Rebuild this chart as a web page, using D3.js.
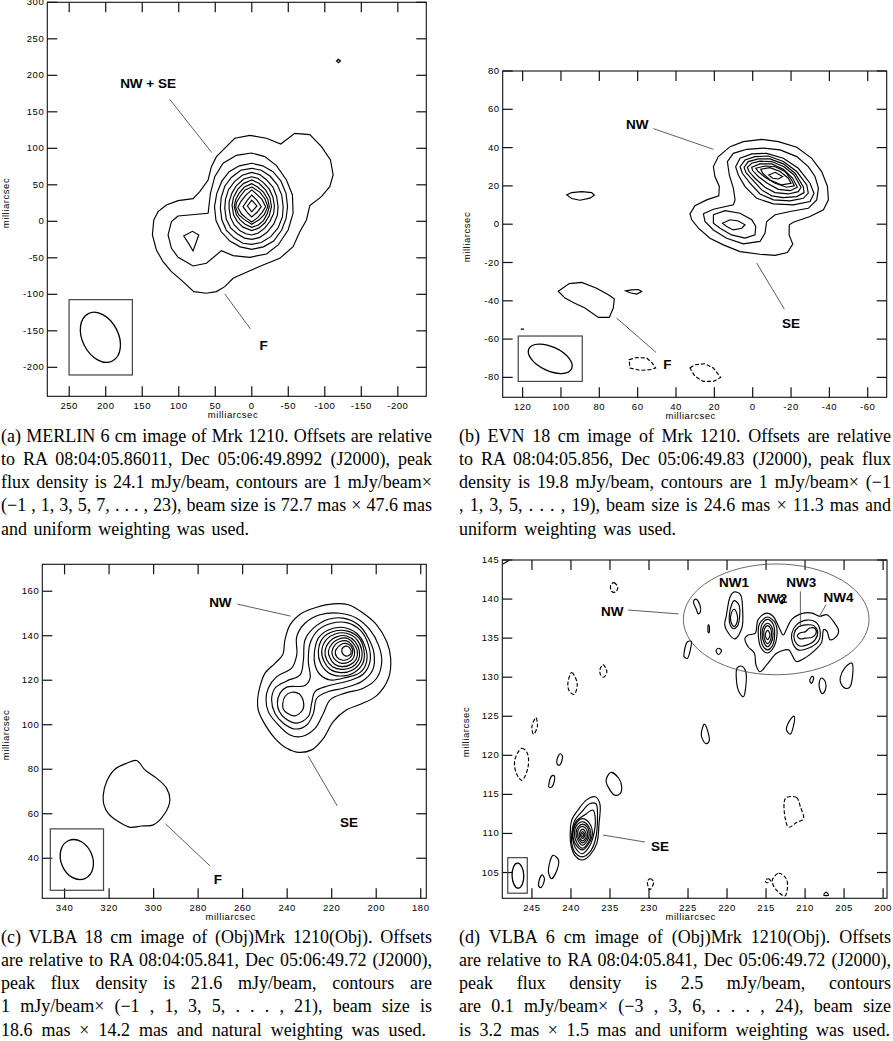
<!DOCTYPE html>
<html>
<head>
<meta charset="utf-8">
<script src="https://cdn.jsdelivr.net/npm/d3@7"></script>
<style>
  html, body { margin: 0; padding: 0; background: #fff; }
  svg { display: block; }
  .tick text, .axis-title { font-family: "Liberation Sans", sans-serif; font-size: 9.5px; fill: #000; letter-spacing: .55px; }
  .region { font-family: "Liberation Sans", sans-serif; font-size: 13.5px; font-weight: bold; fill: #000; }
  .caption { font-family: "Liberation Serif", serif; font-size: 18px; fill: #000; }
</style>
</head>
<body>
<svg width="893" height="1041"></svg>
<script>
// ---- (a) MERLIN 6 cm, values in mas [RA offset, Dec offset]
const merlinTicksX = [250, 200, 150, 100, 50, 0, -50, -100, -150, -200];
const merlinTicksY = [300, 250, 200, 150, 100, 50, 0, -50, -100, -150, -200];
const merlinContours = [
  [[134.2,1.8],[128.3,13.2],[116.9,22.4],[100.9,28.3],[80.4,31.1],[71.2,40.6],[59.8,56.6],[55.3,74.9],[48.4,88.6],[34.7,102.3],[23.3,113.7],[2.7,117.8],[-20.1,113.7],[-39.7,105.9],[-58.9,120.5],[-79.5,118.7],[-95.4,102.3],[-107.8,84],[-111.4,63.5],[-106.8,47.5],[-95.4,33.8],[-79.5,21.5],[-74.9,1.8],[-65.8,-14.2],[-56.6,-34.7],[-38.4,-50.7],[-15.5,-59.8],[2.7,-67.6],[25.6,-78.1],[37,-89.5],[48.4,-96.3],[62.1,-98.6],[79.5,-96.3],[94.1,-82.6],[110,-68.9],[121.5,-55.3],[130.6,-39.3],[136.1,-18.7]],
  [[100.9,7.3],[110,-0.5],[114.6,-18.7],[110,-37],[100.9,-49.3],[80.4,-61.2],[62.1,-57.5],[41.6,-40.2],[25.6,-47],[2.7,-49.3],[-20.1,-44.7],[-36.1,-32.4],[-49.8,-11.9],[-56.6,11],[-55.7,36.1],[-47.5,56.6],[-33.8,76.3],[-17.8,88.6],[0.5,93.6],[21,90.4],[39.3,79.5],[50.7,61.2],[56.6,38.4],[59.8,11]],
  [[93.2,-20.1],[81.3,-13.7],[72.6,-18.7],[80.4,-40.6],[87.2,-29.2]],
  [[0,79.5],[17,76],[31,68],[41,55],[48,38],[51,20],[49,1],[42,-14],[30,-27],[16,-35],[0,-38.4],[-16,-35],[-30,-27],[-41,-12],[-47,4],[-49,20],[-47,38],[-40,55],[-29,68],[-15,76]],
  [[0,72.6],[15,70],[28,60],[37,48],[42,32],[43,18],[41,2],[35,-12],[24,-23],[12,-30],[0,-31.5],[-13,-29],[-26,-21],[-36,-9],[-42,6],[-43,20],[-41,36],[-35,50],[-25,62],[-13,70]],
  [[0,67],[13,63],[24,54],[32,43],[36,30],[37,18],[35,3],[29,-9],[20,-17],[10,-23],[0,-24.7],[-11,-22],[-21,-15],[-30,-4],[-35,8],[-36,20],[-34,34],[-29,47],[-20,57],[-11,64]],
  [[0,61],[11,58],[21,49],[27,39],[31,27],[31,17],[29,5],[24,-5],[16,-13],[8,-17],[0,-18.7],[-9,-16],[-18,-9],[-25,0],[-30,11],[-31,21],[-29,33],[-24,44],[-16,53],[-8,59]],
  [[0,56.6],[11,52],[19,44],[25,33],[27,22],[25,9],[20,0],[12,-8],[0,-12.8],[-10,-9],[-18,-2],[-24,8],[-27,20],[-25,32],[-19,43],[-10,52]],
  [[0,51.6],[10,47],[17,39],[22,30],[24,20],[21,9],[16,2],[9,-4],[0,-8.2],[-9,-5],[-16,1],[-21,10],[-24,20],[-22,30],[-16,40],[-8,47]],
  [[0,47],[9,43],[16,34],[21,26],[22,19],[18,9],[11,3],[0,-4],[-10,2],[-17,9],[-22,20],[-18,31],[-11,40]],
  [[0,43],[8,36],[15,27],[19,19],[14,10],[7,4],[0,-1],[-8,5],[-14,12],[-19,20],[-14,30],[-7,37]],
  [[0,36],[6,29],[12,20],[6,12],[0,6],[-7,12],[-13,20],[-7,29]],
  [[0,29],[6,21],[0,13],[-7,21]],
  [[-116,219.6],[-118.7,222],[-121.5,219.6],[-118.7,217.3]]
];
const merlinLeaders = [[[112.3,167.1],[54.8,94.1]], [[37,-99.5],[1.8,-147.5]]];
const merlinLabels = [["NW + SE",142,189], ["F",-16.4,-169.9]];
const merlinBeam = [207.3,-158.9,72.7,49.3,-27];
const merlinBeamBox = [250.2,163.5,-107.3,-210.5];

// ---- (b) EVN 18 cm
const evnTicksX = [120, 100, 80, 60, 40, 20, 0, -20, -40, -60];
const evnTicksY = [80, 60, 40, 20, 0, -20, -40, -60, -80];
const evnContours = [
  [[32.7,5.4],[30.1,9.6],[24,12.7],[17.7,14.8],[17.4,19.7],[19.7,24.9],[20.5,30.1],[17.9,35.3],[11.8,40.5],[4.9,43.1],[-4.7,44.3],[-13.4,43.1],[-23,40.2],[-30.8,34.4],[-36,27.5],[-39,19.7],[-39.5,12.7],[-36.9,7.5],[-29.9,4],[-21.2,1],[-19.1,-0.3],[-19,-5.6],[-20.9,-10.4],[-18.1,-14.8],[-11.7,-16.3],[-3.8,-15.7],[6.6,-14.3],[15.3,-10.8],[22.3,-7.3],[28.3,-2.1],[31.8,2.3]],
  [[25.7,5.4],[20.5,7.8],[10.1,10.1],[9.2,12.7],[10.1,18.8],[12.2,25.7],[13.2,32.7],[10.1,37],[3.1,39.1],[-5.6,39.7],[-14.3,38.8],[-23,35.3],[-29,30.1],[-32.5,24.9],[-34.3,18.8],[-33.4,12.7],[-29,8.3],[-19.5,6.6],[-11.7,4.9],[-7.3,1.4],[-6.4,-4.7],[-3.8,-9],[4.9,-10.3],[13.6,-7.3],[20.5,-3],[24.9,1.4]],
  [[20.5,4.9],[14.4,7.1],[6.6,5.7],[0.5,2.3],[-1.6,-1.2],[-1.2,-5.6],[4,-7.3],[11,-5.6],[17,-2.1],[20.5,0.5]],
  [[15.8,0.5],[11.8,2.3],[7.5,1.7],[4,-0.3],[5.7,-2.1],[10.1,-3],[13.6,-1.2]],
  [[8.9,30],[6.6,34.4],[0.5,36.7],[-7.3,37],[-16,34.4],[-23.8,29.2],[-29.9,21.4],[-32,16.2],[-29.9,11.8],[-21.2,10.1],[-10.8,10.6],[-2.1,13.5],[4,19.6],[7.5,25.7]],
  [[6.6,30],[4,33.5],[-1.2,35.3],[-8.2,35.6],[-16,32.7],[-23,27.5],[-28.2,20.5],[-29,16.2],[-26.4,13.5],[-19.5,12.2],[-10.8,12.7],[-3.8,15.8],[1.4,21.4],[5.4,26.6]],
  [[4.5,29.7],[2.3,32.7],[-2.9,34.1],[-9,34.1],[-16,31.5],[-22.1,26.6],[-26.4,19.6],[-26.8,16.5],[-23,14.4],[-16,13.9],[-9.9,14.8],[-4.7,17.9],[-0.3,22.8],[3.5,26.9]],
  [[2.8,29.7],[0.5,31.8],[-3.8,32.9],[-9.9,32.7],[-16.3,30],[-21.6,25.7],[-25.2,19.3],[-23.8,17],[-18.6,15.8],[-11.6,16.5],[-6.4,19.3],[-1.2,24],[1.9,27.5]],
  [[0.5,29.7],[-3.8,31.5],[-9.9,31.5],[-16,28.7],[-20.9,24],[-23.3,19.3],[-19.5,17.5],[-13.4,18.2],[-7.6,21.4],[-2.9,24.9],[0,28]],
  [[-1.6,29.2],[-6.4,30.4],[-11.7,30],[-16.9,27.5],[-20.3,23.1],[-21.7,20],[-17.7,19.3],[-11.7,21.4],[-6.4,24.5],[-2.9,27.5]],
  [[-4.2,28.7],[-9,29.5],[-14.3,27.5],[-18.6,24],[-20,21.4],[-15.1,20.5],[-9,23.1],[-5.2,26.6]],
  [[-8.3,25.7],[-11.7,27.1],[-15.6,24.9],[-13.4,23.6],[-10.4,24]],
  [[97,15.3],[94.4,16.5],[89.2,17],[84,16.5],[82.6,15.1],[84.9,13.6],[90.1,12.5],[94.4,13.4]],
  [[101.4,-35],[95.7,-31],[89.2,-30.4],[81.4,-33.4],[75.3,-36.9],[72.2,-39],[72.7,-43.8],[74.8,-48.7],[80.5,-48.7],[87.5,-43.8],[93.6,-40.9],[97.9,-38.6]],
  [[66.3,-34.8],[63.1,-34.3],[59.7,-34.1],[57.9,-35.1],[60.5,-36.5],[64,-35.8]],
  [[121,-54.8],[119.3,-54.8]]
];
const evnDashed = [
  [[64.5,-70.8],[60.5,-69.6],[55.3,-69.9],[52.7,-72.2],[50.6,-75.1],[53.6,-76],[58.8,-76.3],[64,-75.1]],
  [[32.7,-75.1],[30.1,-73.4],[24.9,-72.9],[20.5,-75.1],[16.7,-80],[20.5,-82.1],[25.7,-82.1],[30.1,-79.5]]
];
const evnLeaders = [[[51.8,49.9],[20.5,39.1]], [[-2.1,-20.3],[-16.5,-44.3]], [[71,-49],[50.4,-67]]];
const evnLabels = [["NW",60.2,52.3], ["SE",-20,-51.7], ["F",44.5,-72.9]];
const evnBeam = [105.6,-70.3,24.6,12.5,-65];
const evnBeamBox = [122.3,88.9,-58.4,-82.1];

// ---- (c) VLBA 18 cm
const vlba18TicksX = [340, 320, 300, 280, 260, 240, 220, 200, 180];
const vlba18TicksY = [160, 140, 120, 100, 80, 60, 40];
const vlba18Contours = [
  [[253.3,111.2],[252.2,117.2],[250,123.1],[245.5,127.6],[242,131.4],[241,138.1],[238.7,144.9],[233.5,150.1],[226.7,152.8],[219.3,154.3],[212.5,153.9],[205.8,150.1],[199.8,144.9],[195.3,137.4],[193.5,129.9],[194.5,120.9],[199.8,113.1],[206.5,109.4],[213.3,106.7],[219.3,101.4],[223.7,93.9],[229,88.7],[235,87.6],[240.2,89.4],[245.5,93.9],[250.7,101.4],[253,106.7]],
  [[249.5,111.2],[248.5,116.4],[244.7,121.6],[238,125.4],[235.7,131.4],[235.7,139.6],[232,145.6],[225.2,149.4],[216.3,150.1],[208.8,147.9],[202.8,142.6],[199,135.9],[197.5,128.4],[199.8,120.9],[205.8,116.4],[214,114.2],[220.7,111.2],[223.7,105.2],[227.5,98.4],[233.5,94.7],[238.7,95.4],[244.7,100.7],[248.5,105.9]],
  [[247,111.2],[245.5,116.4],[240.2,119.7],[234.2,122.4],[232.7,129.1],[232,138.1],[228.2,143.4],[221.5,147.4],[214.8,147.9],[208,144.9],[203.5,138.9],[201,132.1],[201.6,124.6],[206.5,119.4],[214.8,116.4],[221.5,114.9],[226.7,111.9],[228.2,105.2],[231.2,99.9],[236.5,98.1],[241.7,100.7],[245.5,105.2]],
  [[244.4,109.7],[243.2,114.2],[240.2,116.9],[232,117.6],[229.7,120.9],[230.5,128.4],[229.7,136.6],[226,142.6],[220,145.6],[213.3,145.9],[207.3,142.6],[203.5,135.9],[202.8,128.4],[205.8,122.8],[211.8,119.9],[221.5,117.5],[227.5,114.9],[229,109.7],[230.5,103.7],[235.7,100.7],[241,102.9],[243.5,105.9]],
  [[242,109.4],[241,112.7],[238,114.6],[234.7,113.9],[232.7,110.4],[233,106.7],[236.5,104],[239.9,105.2],[241.7,107]],
  [[227.8,132.1],[226,138.9],[221.5,142.6],[214.8,143.7],[208.8,141.1],[205,135.1],[204.3,128.4],[207.3,123.4],[213.3,121.3],[220.7,120.1],[225.5,122.8],[227.5,126.9]],
  [[226,132.9],[224,138.9],[219.3,141.9],[213.3,142.2],[208,139.3],[205.5,133.6],[206,127.6],[210,123.4],[216.3,121.9],[221.5,123.4],[225,127.6]],
  [[224.5,132.9],[222.5,138.1],[218.5,140.8],[213.3,141.1],[208.8,138.4],[206.5,133.6],[207,128.4],[210.6,124.6],[216,123.4],[220.7,124.9],[223.4,128.4]],
  [[223,132.9],[221,137.4],[217.5,139.6],[213.3,139.9],[209.5,137.4],[207.6,133.3],[208,129.1],[211,125.8],[215.5,124.9],[219.6,126.1],[222.2,129.1]],
  [[221.5,132.9],[219.7,136.6],[217,138.4],[213.3,138.9],[210.3,136.6],[208.5,133.2],[209,129.4],[211.8,126.9],[215.5,126.1],[218.8,127.3],[220.7,129.9]],
  [[219.9,132.9],[218.5,135.9],[216.3,137.4],[213.3,137.7],[211,135.9],[209.7,132.9],[210.3,129.9],[212.5,128.1],[215.5,127.6],[218,128.8],[219.4,130.6]],
  [[218.4,132.9],[217,135.1],[214.8,136.5],[212.5,136.2],[210.7,134.1],[211,131],[213,129.3],[215.5,129.1],[217.6,130.4]],
  [[215.5,133.2],[214.8,134.8],[213,135.3],[211.5,133.9],[211.3,132.1],[212.8,130.9],[214.4,131.2]],
  [[322.6,68.5],[321.1,74.5],[317.4,80],[312.1,82.7],[307.6,83.9],[303.9,79.7],[298.7,76],[294.2,71.5],[292.7,66.2],[294.9,60.2],[300.1,55],[305.4,54.5],[310.6,53.9],[315.9,56.5],[320.4,60.2],[322.3,64]]
];
const vlba18Leaders = [[[262.4,154.2],[238.4,148.8]], [[230.6,86],[217.5,63.5]], [[294.6,55.4],[274.7,36.6]]];
const vlba18Labels = [["NW",270,155.2], ["SE",212.2,56.3], ["F",271.1,30.7]];
const vlba18Beam = [334.5,39.4,18.6,14.2,-23];
const vlba18BeamBox = [346.4,322.5,53.2,25.6];

// ---- (d) VLBA 6 cm
const vlba6TicksX = [245, 240, 235, 230, 225, 220, 215, 210, 205, 200];
const vlba6TicksY = [145, 140, 135, 130, 125, 120, 115, 110, 105];
const vlba6Contours = [
  // NW1
  [[220.1,137.8],[219.6,140.3],[219.1,140.9],[218.3,140.6],[218,138.6],[218.1,136.3],[219,134.9],[219.8,135.6],[220.3,136.7]],
  [[219.7,138],[219.4,139.3],[219.1,139.8],[218.5,139.3],[218.4,137.6],[218.7,136.5],[219.2,136.2],[219.6,136.7]],
  [[219.5,138],[219.1,138.7],[218.7,138],[218.7,137.1],[219.1,136.5],[219.5,137.1]],
  // NW2 - NW4 envelope
  [[217.7,135],[217.3,135.4],[216.4,135.6],[216,137.4],[214.9,138.2],[214.1,137.8],[213.4,136.5],[212.8,135.4],[212.4,136.1],[211.7,137.4],[210.2,138.2],[209.1,138.2],[208.1,137.8],[207.2,138],[206.2,136.9],[205.7,135.9],[206.2,135],[206.8,134.8],[207.2,135.9],[207.6,136.1],[207.9,134.4],[208.9,133.3],[209.8,132.6],[211.1,132],[211.7,132.9],[212.1,133.5],[213.6,133.1],[214.9,131.6],[215.8,130.7],[216.3,131.6],[216.5,133.1],[217.3,133.9]],
  // NW2
  [[216,135.6],[215.8,136.9],[214.8,137.7],[213.8,136.9],[213.6,135.4],[214.1,133.7],[214.8,133.1],[215.6,133.7]],
  [[215.7,135.6],[215.5,136.8],[214.8,137.4],[214.1,136.8],[213.9,135.4],[214.2,134],[214.8,133.5],[215.4,134]],
  [[215.5,135.6],[215.3,136.5],[214.8,136.9],[214.3,136.5],[214.1,135.4],[214.4,134.3],[214.8,133.9],[215.2,134.3]],
  [[215.3,135.5],[215.2,136.2],[214.8,136.6],[214.4,136.2],[214.3,135.4],[214.5,134.6],[214.8,134.3],[215.1,134.6]],
  [[215.1,135.4],[214.8,136],[214.5,135.4],[214.8,134.8]],
  // NW3
  [[211.7,135.6],[211.1,136.7],[209.8,137.3],[208.7,137.1],[208.1,136.1],[208.3,134.6],[209.6,133.7],[210.9,133.5],[211.6,134.4]],
  [[211.4,135.6],[210.9,136.4],[209.8,136.7],[208.9,136.6],[208.4,135.9],[208.7,134.8],[209.8,134.1],[210.7,134],[211.3,134.6]],
  [[211,135.3],[210.6,135.7],[210,135.8],[209.4,136.3],[208.7,136.2],[208.6,135.6],[209.1,135.1],[210,135],[210.6,134.9]],
  // isolated islands
  [[224.3,139.7],[224,140],[223.5,139.3],[223.4,138.4],[223.7,138.1],[223.9,138.6]],
  [[222.4,136.7],[222.3,136.6],[222.3,135.7],[222.4,135.7]],
  [[221.4,133.4],[221.1,133.7],[220.7,133.4],[221.1,132.9]],
  [[225.5,133.1],[225.1,134.5],[224.6,134.6],[224.7,133.5],[225.1,132.4],[225.5,132.6]],
  [[218.8,129.7],[218.7,131.2],[218.1,131.4],[217.6,130.7],[217.6,128.8],[217.9,127.5],[218.5,128.2]],
  [[209.4,129.6],[209.1,130.1],[208.9,129.9],[209.2,129.2]],
  [[208.2,129.2],[207.9,129.9],[207.4,129.4],[207.4,128.4],[207.8,127.9],[208.1,128.4]],
  [[205.5,129.9],[204.9,131.2],[204,131.8],[203.9,130.3],[204.3,128.7],[204.9,128.6],[205.4,129.2]],
  [[223.3,122.8],[222.9,124],[222.5,123.2],[222.3,121.8],[222.7,121.5],[223.2,122.2]],
  [[212.4,123.3],[211.8,124.7],[211.4,125],[211.5,123.7],[211.9,122.7]],
  [[241.8,119.4],[241.4,120.2],[241.1,119.9],[241.4,118.8],[241.7,118.8]],
  [[242.8,116.5],[242.4,117.4],[242.1,117.3],[242.4,116],[242.8,115.9]],
  [[235.5,116.8],[234.9,117.8],[233.9,117.1],[233.5,116],[233.7,115.1],[234.4,114.9],[235.2,115.9]],
  [[242.9,105.3],[242.3,107.2],[241.6,106.6],[241.8,105.3],[242.5,104.2],[242.8,104.7]],
  [[244.1,103.9],[243.7,104.7],[243.4,104.2],[243.8,103.1],[244.1,103.2]],
  [[207.6,102.1],[207.3,102.5],[207,102.1]],
  [[213.3,140.1],[212.9,140.3],[212.6,139.9],[213,139.4]],
  // SE
  [[240.1,109.8],[239.9,111.7],[239.1,113],[238,114.3],[236.9,114.7],[236.3,113.8],[236.4,111.3],[236.7,108.7],[237.6,107.2],[238.6,106.6],[239.5,107.2],[240,108.5]],
  [[239.9,110],[239.5,111.7],[238.6,112.8],[237.6,113.8],[236.8,113.8],[236.6,112.1],[236.9,109.1],[237.6,107.6],[238.6,107],[239.5,107.6],[239.9,108.7]],
  [[239.8,110],[239.3,111.6],[238.2,112.4],[237.2,113],[236.9,112.1],[237.2,109.4],[237.8,108.1],[238.6,107.4],[239.4,108.1],[239.7,108.9]],
  [[239.75,110],[239.4,111.2],[238.6,111.9],[237.7,111.4],[237.25,110],[237.6,108.9],[238.5,107.9],[239.4,108.6]],
  [[239.55,110],[239.3,111],[238.5,111.5],[237.8,111],[237.45,109.9],[237.75,108.9],[238.5,108.1],[239.25,108.8]],
  [[239.35,110],[239.1,110.8],[238.5,111.2],[237.9,110.8],[237.65,109.9],[237.9,109.1],[238.5,108.5],[239.1,109.1]],
  [[239.15,109.9],[239,110.6],[238.5,110.9],[238,110.5],[237.85,109.8],[238.05,109.2],[238.5,108.8],[238.95,109.2]],
  [[238.95,109.8],[238.8,110.3],[238.5,110.55],[238.2,110.3],[238.05,109.8],[238.2,109.3],[238.5,109.05],[238.8,109.3]],
  [[238.78,109.8],[238.5,110.25],[238.22,109.8],[238.5,109.35]],
  [[238.62,109.8],[238.5,110.05],[238.38,109.8],[238.5,109.55]]
];
const vlba6Dashed = [
  [[234.9,141.8],[234.5,142.1],[234,141.5],[234.3,140.9],[234.8,141]],
  [[236.3,130.9],[235.9,131.6],[235.4,130.7],[235.8,130],[236.2,130.3]],
  [[240.4,129.2],[239.9,130.6],[239.2,129.2],[239.6,127.8],[240.2,128.2]],
  [[245,123.7],[244.5,124.8],[244.3,123.7],[244.8,122.7]],
  [[247.2,119.4],[246.3,120.9],[245.6,120.3],[245.5,118.5],[246.3,116.8],[247,117.7]],
  [[212.5,114.5],[211.1,114.6],[210.6,113.4],[210.2,111.9],[211.1,111.4],[212.1,110.8],[212.5,111.7]],
  [[230.2,103.8],[229.9,104.2],[229.4,103.8],[229.9,102.8]],
  [[214.2,104],[213.4,104.9],[212.4,104.2],[212.3,102.7],[212.6,102],[213.8,102.9]],
  [[215.1,104],[214.7,104.2],[214.4,103.9],[214.9,103.7]],
  [[248.7,144.5],[248,144.9]]
];
const vlba6Leaders = [[[232.7,138.6],[226.2,138.1]], [[235.9,109.8],[230.5,108.9]], [[210.6,141],[210.6,136.5]], [[207.3,139.3],[208.1,137.9]]];
const vlba6Labels = [["NW",234.7,138.4], ["SE",228.6,108.4], ["NW1",219.1,142.2], ["NW2",214.2,140.1], ["NW3",210.5,142.2], ["NW4",205.7,140.3]];
const vlba6Beam = [246.8,104.6,3.2,1.5,-2];
const vlba6BeamBox = [248.1,245.6,106.9,102.35];
const vlba6Circle = [213.7,137.4,11.9,7.1];

// ---- captions, one line per entry as they are broken in the picture
const captionA = ["(a) MERLIN 6 cm image of Mrk 1210. Offsets are relative", "to RA 08:04:05.86011, Dec 05:06:49.8992 (J2000), peak", "flux density is 24.1 mJy/beam, contours are 1 mJy/beam×", "(−1 , 1, 3, 5, 7, . . . , 23), beam size is 72.7 mas × 47.6 mas", "and uniform weighting was used."];
const captionB = ["(b) EVN 18 cm image of Mrk 1210. Offsets are relative", "to RA 08:04:05.856, Dec 05:06:49.83 (J2000), peak flux", "density is 19.8 mJy/beam, contours are 1 mJy/beam× (−1", ", 1, 3, 5, . . . , 19), beam size is 24.6 mas × 11.3 mas and", "uniform weighting was used."];
const captionC = ["(c) VLBA 18 cm image of (Obj)Mrk 1210(Obj). Offsets", "are relative to RA 08:04:05.841, Dec 05:06:49.72 (J2000),", "peak flux density is 21.6 mJy/beam, contours are", "1 mJy/beam× (−1 , 1, 3, 5, . . . , 21), beam size is", "18.6 mas × 14.2 mas and natural weighting was used."];
const captionD = ["(d) VLBA 6 cm image of (Obj)Mrk 1210(Obj). Offsets", "are relative to RA 08:04:05.841, Dec 05:06:49.72 (J2000),", "peak flux density is 2.5 mJy/beam, contours", "are 0.1 mJy/beam× (−3 , 3, 6, . . . , 24), beam size", "is 3.2 mas × 1.5 mas and uniform weighting was used."];

const svg = d3.select("svg");
const tickFormat = d => String(d); // plain hyphen on negatives, like the plots

function drawPanel(p) {
    const x = d3.scaleLinear().domain(p.domainX).range([p.left, p.right]);
    const y = d3.scaleLinear().domain(p.domainY).range([p.bottom, p.top]);
    const g = svg.append("g");

    g.append("rect")
        .attr("x", p.left).attr("y", p.top)
        .attr("width", p.right - p.left).attr("height", p.bottom - p.top)
        .attr("fill", "none").attr("stroke", "#111").attr("stroke-width", 1.1);

    //axes on all four sides, ticks point inward
    const axes = [
        [d3.axisBottom(x).tickValues(p.ticksX).tickFormat(tickFormat).tickPadding(6), 0, p.bottom],
        [d3.axisTop(x).tickValues(p.ticksX).tickFormat(""), 0, p.top],
        [d3.axisLeft(y).tickValues(p.ticksY).tickFormat(tickFormat).tickPadding(3), p.left, 0],
        [d3.axisRight(y).tickValues(p.ticksY).tickFormat(""), p.right, 0]
    ];
    axes.forEach(([axis, dx, dy]) => {
        const a = g.append("g").attr("transform", `translate(${dx},${dy})`);
        a.call(axis.offset(0).tickSize(-p.tick).tickSizeOuter(0));
        a.select(".domain").remove();
        a.selectAll("line").attr("stroke", "#111").attr("stroke-width", 1.2);
    });

    const line = d3.line().x(d => x(d[0])).y(d => y(d[1])).curve(p.curve);

    g.selectAll(".contour").data(p.contours).enter().append("path")
        .attr("class", "contour")
        .attr("d", line)
        .attr("fill", "none").attr("stroke", "#000").attr("stroke-width", 1.15);

    g.selectAll(".negative").data(p.dashed || []).enter().append("path")
        .attr("class", "negative")
        .attr("d", line)
        .attr("fill", "none").attr("stroke", "#000").attr("stroke-width", 1.15)
        .attr("stroke-dasharray", "4,2");

    g.selectAll(".leader").data(p.leaders).enter().append("line")
        .attr("class", "leader")
        .attr("x1", d => x(d[0][0])).attr("y1", d => y(d[0][1]))
        .attr("x2", d => x(d[1][0])).attr("y2", d => y(d[1][1]))
        .attr("stroke", "#333").attr("stroke-width", .8);

    g.selectAll(".region").data(p.labels).enter().append("text")
        .attr("class", "region")
        .attr("x", d => x(d[1])).attr("y", d => y(d[2]))
        .attr("dy", ".36em").attr("text-anchor", "middle")
        .text(d => d[0]);

    //restoring beam with its box
    const box = p.beamBox;
    g.append("rect")
        .attr("x", x(box[0])).attr("y", y(box[2]))
        .attr("width", x(box[1]) - x(box[0])).attr("height", y(box[3]) - y(box[2]))
        .attr("fill", "none").attr("stroke", "#444").attr("stroke-width", 1.2);
    const b = p.beam;
    const pxPerMas = Math.abs(x(1) - x(0));
    g.append("ellipse")
        .attr("transform", `translate(${x(b[0])},${y(b[1])}) rotate(${b[4]})`)
        .attr("rx", b[3] / 2 * pxPerMas).attr("ry", b[2] / 2 * pxPerMas)
        .attr("fill", "none").attr("stroke", "#000").attr("stroke-width", 1.3);

    if (p.circle) {
        g.append("ellipse")
            .attr("cx", x(p.circle[0])).attr("cy", y(p.circle[1]))
            .attr("rx", p.circle[2] * pxPerMas).attr("ry", p.circle[3] * pxPerMas)
            .attr("fill", "none").attr("stroke", "#444").attr("stroke-width", .8);
    }

    g.append("text").attr("class", "axis-title")
        .attr("x", p.titleX[0]).attr("y", p.titleX[1])
        .attr("text-anchor", "middle").text("milliarcsec");
    g.append("text").attr("class", "axis-title")
        .attr("transform", `translate(${p.titleY[0]},${p.titleY[1]}) rotate(-90)`)
        .attr("text-anchor", "middle").text("milliarcsec");
}

function drawCaption(lines, left, widths, baselines) {
    lines.forEach((s, i) => {
        const t = svg.append("text").attr("class", "caption")
            .attr("x", left).attr("y", baselines[i]).text(s);
        //justify like the paper: open or close the word gaps, then fit to the column
        const gaps = s.split(" ").length - 1;
        const natural = t.node().getComputedTextLength();
        const spacing = Math.max(-2.2, (widths[i] - natural) / gaps);
        t.attr("word-spacing", spacing)
            .attr("textLength", widths[i])
            .attr("lengthAdjust", "spacingAndGlyphs");
    });
}

drawPanel({
    left: 47.3, right: 426.3, top: 2.3, bottom: 396.3, tick: 10,
    domainX: [280, -239], domainY: [-239.7, 300],
    ticksX: merlinTicksX, ticksY: merlinTicksY,
    contours: merlinContours, leaders: merlinLeaders, labels: merlinLabels,
    beam: merlinBeam, beamBox: merlinBeamBox, curve: d3.curveLinearClosed,
    titleX: [233, 418], titleY: [9, 203]
});
drawPanel({
    left: 502.7, right: 886.7, top: 71, bottom: 397.3, tick: 10,
    domainX: [130.4, -69.9], domainY: [-90.4, 80],
    ticksX: evnTicksX, ticksY: evnTicksY,
    contours: evnContours, dashed: evnDashed, leaders: evnLeaders, labels: evnLabels,
    beam: evnBeam, beamBox: evnBeamBox, curve: d3.curveLinearClosed,
    titleX: [690.7, 419], titleY: [470, 237]
});
drawPanel({
    left: 42.3, right: 426.3, top: 564.3, bottom: 898.3, tick: 10,
    domainX: [350, 177.5], domainY: [22, 172.1],
    ticksX: vlba18TicksX, ticksY: vlba18TicksY,
    contours: vlba18Contours, leaders: vlba18Leaders, labels: vlba18Labels,
    beam: vlba18Beam, beamBox: vlba18BeamBox, curve: d3.curveCatmullRomClosed,
    titleX: [230.7, 920], titleY: [9, 735]
});
drawPanel({
    left: 502.3, right: 887, top: 560, bottom: 898.3, tick: 10,
    domainX: [248.8, 199.5], domainY: [101.7, 145],
    ticksX: vlba6TicksX, ticksY: vlba6TicksY,
    contours: vlba6Contours, dashed: vlba6Dashed, leaders: vlba6Leaders, labels: vlba6Labels,
    beam: vlba6Beam, beamBox: vlba6BeamBox, circle: vlba6Circle, curve: d3.curveCatmullRomClosed,
    titleX: [690.7, 920], titleY: [469, 732]
});

drawCaption(captionA, 1, [431, 431, 431, 431, 248], [442, 465, 488, 511, 535]);
drawCaption(captionB, 459, [432, 432, 432, 432, 217], [442, 465, 488, 511, 535]);
drawCaption(captionC, 1, [431, 431, 431, 431, 425], [943, 966, 989, 1012, 1036]);
drawCaption(captionD, 459, [432, 432, 432, 432, 431], [943, 966, 989, 1012, 1036]);
</script>
</body>
</html>
